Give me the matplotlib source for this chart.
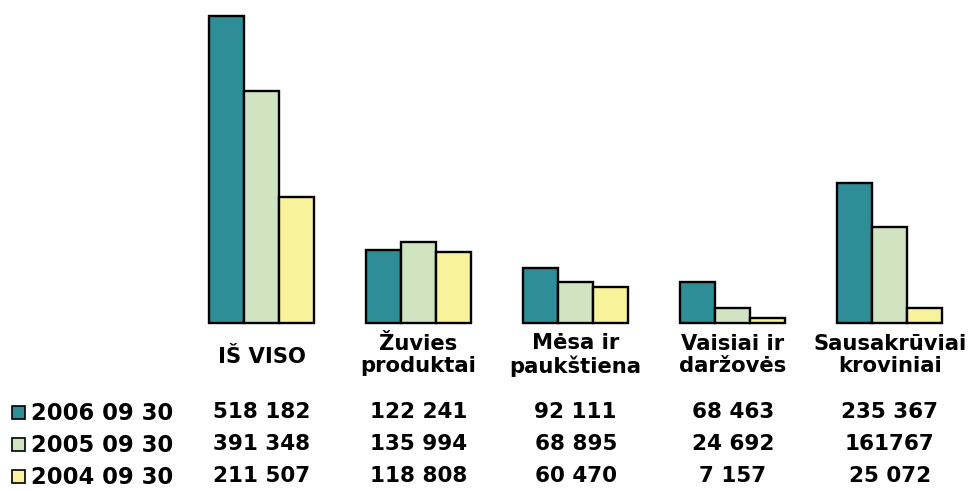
import matplotlib
matplotlib.use("Agg")
import matplotlib.pyplot as plt
from matplotlib.patches import Rectangle
import numpy as np

categories = ["IŠ VISO", "Žuvies\nproduktai", "Mėsa ir\npaukštiena", "Vaisiai ir\ndaržovės", "Sausakrūviai\nkroviniai"]
series_names = ["2006 09 30", "2005 09 30", "2004 09 30"]
values_2006 = [518182, 122241, 92111, 68463, 235367]
values_2005 = [391348, 135994, 68895, 24692, 161767]
values_2004 = [211507, 118808, 60470, 7157, 25072]
value_labels_2006 = ["518 182", "122 241", "92 111", "68 463", "235 367"]
value_labels_2005 = ["391 348", "135 994", "68 895", "24 692", "161767"]
value_labels_2004 = ["211 507", "118 808", "60 470", "7 157", "25 072"]

colors = ["#2f8d98", "#d0e4c2", "#f8f39a"]

W, H = 968, 491
fig = plt.figure(figsize=(W / 100, H / 100), dpi=100)
ax = fig.add_axes([0, 0, 1, 1])
ax.axis("off")

# pixel geometry
x0_px, dx_px = 261.5, 157.1
base_px, top_px = 322.5, 16.0
scale = (base_px - top_px) / max(values_2006)
ax.set_xlim(-x0_px / dx_px, (W - x0_px) / dx_px)
ax.set_ylim(-(H - base_px) / scale, base_px / scale)

bw = 35 / dx_px
x = np.arange(len(categories))
for k, vals in enumerate([values_2006, values_2005, values_2004]):
    ax.bar(x + (k - 1) * bw, vals, width=bw, color=colors[k],
           edgecolor="black", linewidth=1.7, zorder=2)

tr = ax.get_xaxis_transform()
def fy(p):
    return 1 - p / H

fs = 15.5
for i, cat in enumerate(categories):
    if "\n" in cat:
        ax.text(i, fy(355), cat, transform=tr, ha="center", va="center",
                fontsize=15.2, fontweight="bold", linespacing=1.1)
    else:
        ax.text(i, fy(357), cat, transform=tr, ha="center", va="center",
                fontsize=15.2, fontweight="bold")

row_y = [412, 444, 476]
for r, labels in enumerate([value_labels_2006, value_labels_2005, value_labels_2004]):
    for i, lab in enumerate(labels):
        ax.text(i, fy(row_y[r]), lab, transform=tr, ha="center", va="center",
                fontsize=fs, fontweight="bold")
    # legend square + name
    fig.patches.append(Rectangle((12 / W, fy(row_y[r] + 7)), 13 / W, 13 / H,
                                 transform=fig.transFigure, facecolor=colors[r],
                                 edgecolor="black", linewidth=1.2))
    fig.text(31 / W, fy(row_y[r] + 1), series_names[r], ha="left", va="center",
             fontsize=16.3, fontweight="bold")

fig.savefig("out.png", dpi=100, facecolor="white")
